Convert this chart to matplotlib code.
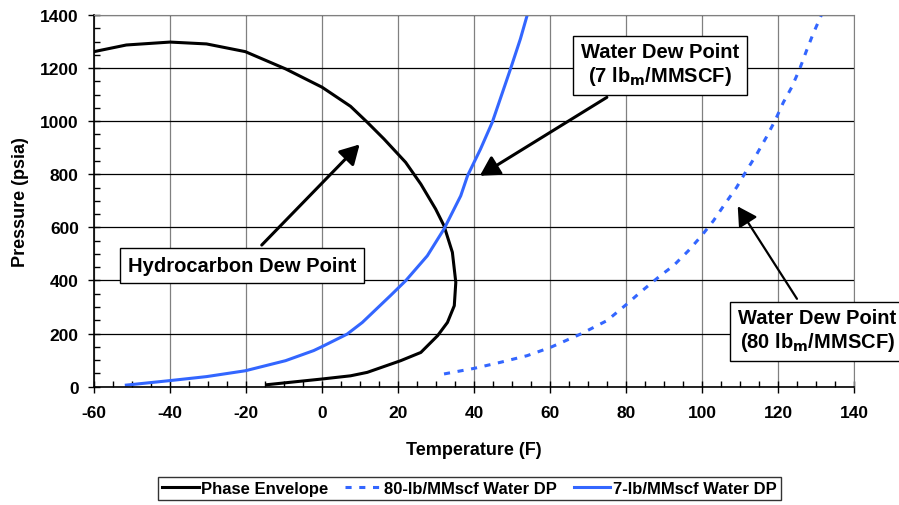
import matplotlib.pyplot as plt
from matplotlib.ticker import MultipleLocator

plt.rcParams['font.family'] = ['Liberation Sans', 'DejaVu Sans']
plt.rcParams['font.weight'] = 'bold'
plt.rcParams['axes.unicode_minus'] = False

# Phase envelope (hydrocarbon dew point)
env_t = [-60, -51.5, -40, -30.4, -20.2, -9.6, 0, 7.5, 11.9, 16.3, 22, 26, 29.9, 32.1,
         34.3, 35.2, 34.8, 33, 30.4, 26, 20.7, 11.9, 7.5, 0, -14.5]
env_p = [1262, 1287, 1298, 1291, 1262, 1197, 1128, 1056, 996, 933, 845, 763, 669, 606,
         506, 393, 305, 242, 192, 129, 98, 54, 41, 29, 7.5]

# 7 lb/MMscf water dew point
w7_t = [-51.5, -40, -30.4, -20.2, -9.6, -2.2, 0, 6.6, 10.6, 18, 22, 27.7, 32.1, 36.5,
        38.3, 41.7, 44.8, 49.6, 52.2, 54]
w7_p = [6, 23, 38, 60, 98, 136, 151, 198, 242, 343, 399, 493, 594, 719,
        795, 895, 996, 1197, 1310, 1400]

# 80 lb/MMscf water dew point
w80_t = [32.1, 40, 47, 54, 60.1, 68, 75, 80.2, 83.7, 89, 92.5, 96.4, 99.9, 103, 106,
         109.1, 111.7, 114.4, 116.9, 119.2, 121.4, 123.6, 125.7, 127.5, 129.2, 131.4]
w80_p = [48, 69, 92, 117, 148, 198, 249, 311, 355, 418, 456, 512, 569, 625, 688,
         751, 814, 876, 939, 1002, 1071, 1128, 1197, 1266, 1328, 1400]

blue = '#3366ff'

fig = plt.figure(figsize=(8.99, 5.06), dpi=100)
ax = fig.add_axes([0.1046, 0.2338, 0.8454, 0.7346])

ax.plot(env_t, env_p, color='black', lw=2.2, label='Phase Envelope')
ax.plot(w80_t, w80_p, color=blue, lw=2.2, dashes=(2, 2.5), label='80-lb/MMscf Water DP')
ax.plot(w7_t, w7_p, color=blue, lw=2.2, label='7-lb/MMscf Water DP')

ax.set_xlim(-60, 140)
ax.set_ylim(0, 1400)
ax.xaxis.set_major_locator(MultipleLocator(20))
ax.xaxis.set_minor_locator(MultipleLocator(5))
ax.yaxis.set_major_locator(MultipleLocator(200))
ax.yaxis.set_minor_locator(MultipleLocator(50))
ax.grid(axis='x', which='major', color='#808080', lw=0.9)
ax.grid(axis='y', which='major', color='black', lw=0.9)
ax.set_axisbelow(True)
ax.tick_params(which='major', direction='inout', length=8, width=1, labelsize=12.5)
ax.tick_params(axis='x', which='major', pad=9)
ax.tick_params(axis='y', which='major', pad=7)
ax.tick_params(which='minor', direction='in', length=4, width=1)
for s in ['top', 'right']:
    ax.spines[s].set_color('#808080')
for s in ['left', 'bottom']:
    ax.spines[s].set_linewidth(1.2)

ax.set_xlabel('Temperature (F)', fontsize=13, fontweight='bold', labelpad=15)
ax.set_ylabel('Pressure (psia)', fontsize=13, fontweight='bold', labelpad=8)

box = dict(boxstyle='square,pad=0.4', fc='white', ec='black', lw=1)
arrow = dict(arrowstyle='-|>,head_length=0.8,head_width=0.45', color='black', lw=2.2)
ax.annotate('Hydrocarbon Dew Point', xy=(10.4, 920), xytext=(-21, 458), fontsize=14.5,
            fontweight='bold', ha='center', va='center', bbox=box, arrowprops=arrow)
ax.annotate('Water Dew Point\n(7 lb$_\\mathbf{m}$/MMSCF)', xy=(40.9, 789), xytext=(88.9, 1213),
            fontsize=14.5, fontweight='bold', ha='center', va='center', bbox=box,
            arrowprops=arrow)
ax.annotate('Water Dew Point\n(80 lb$_\\mathbf{m}$/MMSCF)', xy=(109, 688), xytext=(130.3, 212),
            fontsize=14.5, fontweight='bold', ha='center', va='center', bbox=box,
            arrowprops=dict(arrowstyle='-|>,head_length=0.8,head_width=0.45', color='black', lw=1.6),
            annotation_clip=False)

leg = fig.legend(loc='upper center', bbox_to_anchor=(0.522, 0.056), ncol=3,
                 prop={'weight': 'bold', 'size': 12},
                 frameon=True, fancybox=False, edgecolor='black', handlelength=2.2,
                 handletextpad=0.15, columnspacing=1.0, borderpad=0.25, borderaxespad=0)
leg.get_frame().set_linewidth(1)

fig.savefig('out.png', dpi=100)
